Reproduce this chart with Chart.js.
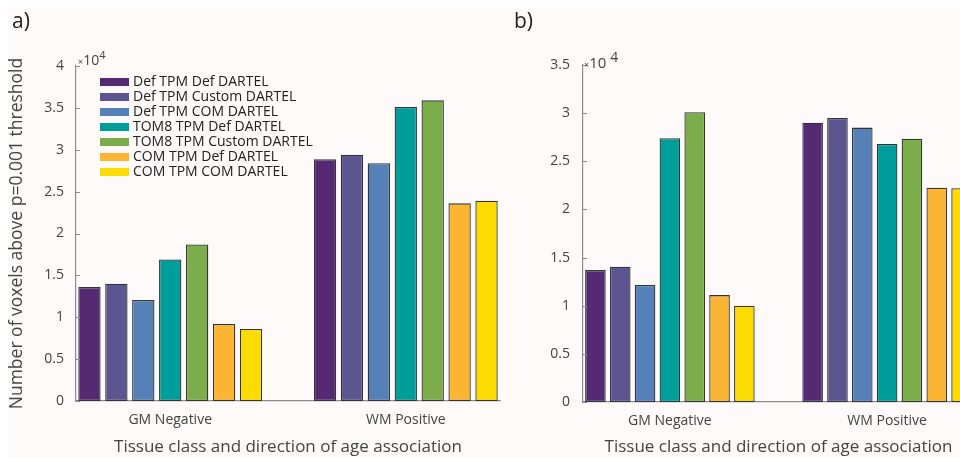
<!DOCTYPE html>
<html>
<head>
<meta charset="utf-8">
<script src="https://cdn.jsdelivr.net/npm/chart.js@4.4.1/dist/chart.umd.min.js"></script>
<style>
    html, body { margin: 0; padding: 0; width: 960px; height: 458px; overflow: hidden; background: #fff; }
    #bg { position: absolute; left: 8px; top: 7px; width: 952px; height: 451px; background: #fdfaf9; }
    canvas { position: absolute; top: 0; }
    #chartA { left: 0; }
    #chartB { left: 490px; }
    .panel { position: absolute; font: 21px "Open Sans", sans-serif; color: #222; }
    .exp { position: absolute; font-family: "Open Sans", sans-serif; color: #444; white-space: nowrap; }
    #legend { position: absolute; left: 100px; top: 73px; font: 14px "Open Sans", sans-serif; color: #222; }
    #legend div { height: 15px; line-height: 15px; white-space: nowrap; }
    #legend span { display: inline-block; width: 29px; height: 8px; margin-right: 4px; vertical-align: 0px; }
</style>
</head>
<body>
<div id="bg"></div>
<canvas id="chartA" width="512" height="458"></canvas>
<canvas id="chartB" width="500" height="458"></canvas>
<div class="panel" style="left:12px;top:6px;">a)</div>
<div class="panel" style="left:514px;top:6px;">b)</div>
<div class="exp" style="left:78px;top:47px;font-size:14px;"><span style="font-size:9px;">×</span>10<sup style="font-size:11px;">4</sup></div>
<div class="exp" style="left:584px;top:47px;font-size:15px;"><span style="font-size:9px;">×</span>10 <sup style="font-size:14px;">4</sup></div>
<div id="legend"></div>
<script>
    var categories = ['GM Negative', 'WM Positive']
    var seriesNames = ['Def TPM Def DARTEL', 'Def TPM Custom DARTEL', 'Def TPM COM DARTEL',
        'TOM8 TPM Def DARTEL', 'TOM8 TPM Custom DARTEL', 'COM TPM Def DARTEL', 'COM TPM COM DARTEL']
    var seriesColors = ['#552a72', '#5c5590', '#5580b8', '#009e9a', '#7bad4b', '#fbb532', '#fcdc00']

    // panel a) one value per series, per category
    var panelA_GM = [13600, 14000, 12060, 16900, 18700, 9200, 8600]
    var panelA_WM = [28860, 29400, 28400, 35100, 35900, 23600, 23900]
    // panel b)
    var panelB_GM = [13700, 14050, 12150, 27400, 30100, 11100, 10000]
    var panelB_WM = [29000, 29500, 28500, 26800, 27350, 22260, 22200]

    var yMaxA = 40000
    var yMaxB = 35000
    var yStep = 5000

    var axisColor = '#8c8c8c'
    var textColor = '#444'
    var font = '"Open Sans", sans-serif'

    function buildDatasets(gm, wm) {
        var byCat = [gm, wm]
        return seriesNames.map(function (name, si) {
            return {
                label: name,
                data: categories.map(function (c, ci) {
                    return { x: ci + 1, y: byCat[ci][si] }
                }),
                backgroundColor: seriesColors[si],
                borderColor: '#353535',
                borderWidth: 1.3,
                borderSkipped: false,
                categoryPercentage: 0.8,
                barPercentage: 0.83
            }
        })
    }

    // MATLAB style ticks pointing into the plot
    var inwardTicks = {
        id: 'inwardTicks',
        afterDraw: function (chart) {
            var ctx = chart.ctx
            var y = chart.scales.y
            var x0 = chart.chartArea.left
            ctx.save()
            ctx.strokeStyle = axisColor
            ctx.lineWidth = 1
            y.ticks.forEach(function (t) {
                var py = Math.round(y.getPixelForValue(t.value)) + 0.5
                ctx.beginPath()
                ctx.moveTo(x0, py)
                ctx.lineTo(x0 + 4, py)
                ctx.stroke()
            })
            ctx.restore()
        }
    }

    function makeChart(canvasId, datasets, yMax, opts) {
        return new Chart(document.getElementById(canvasId), {
            type: 'bar',
            data: { datasets: datasets },
            plugins: [inwardTicks],
            options: {
                responsive: false,
                animation: false,
                layout: { padding: { left: 0, top: opts.top, right: opts.right, bottom: 0 } },
                plugins: { legend: { display: false }, tooltip: { enabled: false } },
                scales: {
                    x: {
                        type: 'linear',
                        min: 0.6,
                        max: 2.4,
                        offset: false,
                        grid: { display: false, offset: false },
                        border: { color: axisColor, width: 1.2 },
                        afterBuildTicks: function (scale) {
                            scale.ticks = categories.map(function (c, i) { return { value: i + 1 } })
                        },
                        afterFit: function (scale) { scale.height = opts.xHeight },
                        ticks: {
                            autoSkip: false,
                            maxRotation: 0,
                            padding: 3,
                            color: textColor,
                            font: { family: font, size: 14 },
                            callback: function (v) { return categories[v - 1] }
                        },
                        title: {
                            display: true,
                            text: 'Tissue class and direction of age association',
                            color: textColor,
                            font: { family: font, size: 17 },
                            padding: { top: 0, bottom: 1 }
                        }
                    },
                    y: {
                        min: 0,
                        max: yMax,
                        grid: { display: false },
                        border: { color: axisColor, width: 1.2 },
                        afterFit: function (scale) { scale.width = opts.yWidth },
                        ticks: {
                            stepSize: yStep,
                            padding: opts.tickPad,
                            color: textColor,
                            font: { family: font, size: 14 },
                            callback: function (v) { return String(v / 10000) }
                        },
                        title: {
                            display: opts.yTitle,
                            text: 'Number of voxels above p=0.001 threshold',
                            color: textColor,
                            font: { family: font, size: 17.5 },
                            padding: { top: 7, bottom: 0 }
                        }
                    }
                }
            }
        })
    }

    var chartA = makeChart('chartA', buildDatasets(panelA_GM, panelA_WM), yMaxA,
        { top: 66, right: 12, yWidth: 76, xHeight: 57, tickPad: 4, yTitle: true })
    var chartB = makeChart('chartB', buildDatasets(panelB_GM, panelB_WM), yMaxB,
        { top: 65, right: 16, yWidth: 93, xHeight: 56, tickPad: 5, yTitle: false })

    // legend drawn from the chart's own datasets
    var legend = document.getElementById('legend')
    chartA.data.datasets.forEach(function (ds) {
        var row = document.createElement('div')
        var box = document.createElement('span')
        box.style.background = ds.backgroundColor
        row.appendChild(box)
        row.appendChild(document.createTextNode(ds.label))
        legend.appendChild(row)
    })
</script>
</body>
</html>
